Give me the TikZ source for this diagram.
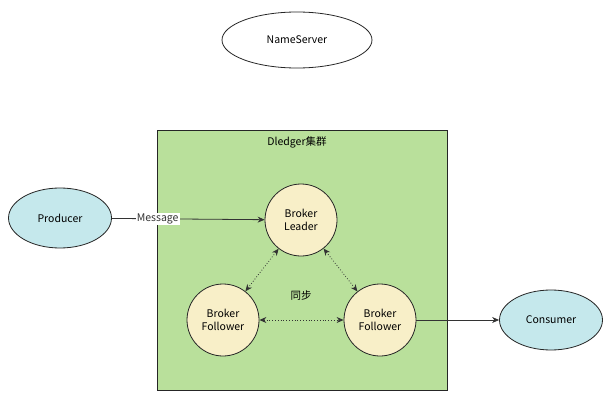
\documentclass[tikz,border=0pt]{standalone}
\usepackage{fontspec}
\setmainfont{Noto Sans CJK SC}
\usetikzlibrary{shapes.geometric, arrows.meta}
\definecolor{clustergreen}{HTML}{B9E09B}
\definecolor{ellcyan}{HTML}{C5E8EC}
\definecolor{brokeryellow}{HTML}{F8EFC8}
\begin{document}
\begin{tikzpicture}[
        x=1pt, y=-1pt,
        every node/.style={font=\fontsize{10.5}{13}\selectfont},
        ell/.style={ellipse, draw=black!85, thick, fill=ellcyan, minimum width=103pt, minimum height=60pt},
        broker/.style={circle, draw=black!85, thick, fill=brokeryellow, minimum size=72pt, align=center, inner sep=0pt},
        link/.style={-{Stealth[length=7pt,width=6pt]}, thick, black!80},
        sync/.style={{Stealth[length=7pt,width=6pt]}-{Stealth[length=7pt,width=6pt]}, thick, dotted, black!80}
    ]
        \useasboundingbox (0,0) rectangle (608,404);

        % cluster
        \draw[thick, black!85, fill=clustergreen] (157,130) rectangle (447,390);
        \node (title) at (297,142) {Dledger集群};

        % name server
        \node[ell, fill=white, minimum width=150pt, minimum height=56pt] (ns) at (297,40) {NameServer};

        % clients
        \node[ell] (producer) at (60,218) {Producer};
        \node[ell] (consumer) at (551,320) {Consumer};

        % brokers
        \node[broker] (leader) at (301,220) {Broker\\Leader};
        \node[broker] (fleft) at (223,320) {Broker\\Follower};
        \node[broker] (fright) at (380,320) {Broker\\Follower};

        % connectors
        \draw[link] (producer) -- node[pos=0.3, fill=white, inner sep=1pt] {Message} (leader);
        \draw[link] (fright) -- (consumer);
        \draw[sync] (leader) -- (fleft);
        \draw[sync] (leader) -- (fright);
        \draw[sync] (fleft) -- (fright);
        \node (tongbu) at (301,296) {同步};
    \end{tikzpicture}
\end{document}
